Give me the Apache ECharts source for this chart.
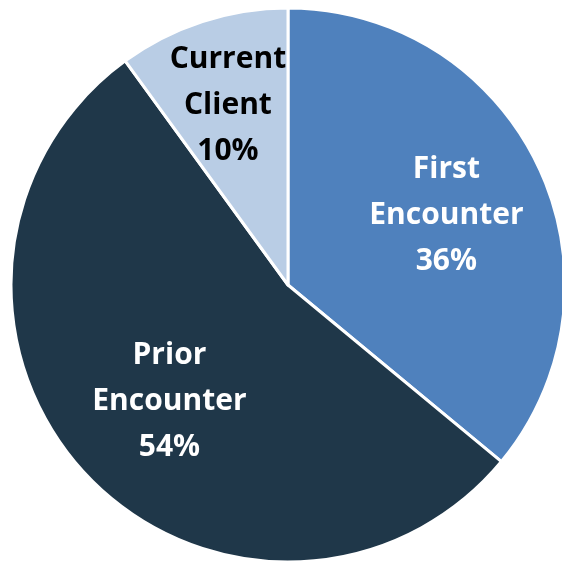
<!DOCTYPE html>
<html>
<head>
<meta charset="utf-8">
<script src="https://cdn.jsdelivr.net/npm/echarts@6/dist/echarts.min.js"></script>
<style>
  html, body { margin: 0; padding: 0; background: #fff; }
  #chart { width: 562px; height: 563px; }
</style>
</head>
<body>
<div id="chart"></div>
<script>
const categories = ['First\nEncounter', 'Prior\nEncounter', 'Current\nClient']
const shares = [36, 54, 10]
const COLORS = ['#4F81BD', '#1F3749', '#B9CDE5']
const TEXT_COLORS = ['#ffffff', '#ffffff', '#000000']
// small nudges so labels sit where the reference put them
const LABEL_OFFSETS = [[0, 5], [9, -3], [-6, -13]]

const chart = echarts.init(document.getElementById('chart'))

const slices = categories.map((name, i) => ({
  name,
  value: shares[i],
  itemStyle: { color: COLORS[i] }
}))

const labelData = categories.map((name, i) => ({
  name,
  value: shares[i],
  label: { color: TEXT_COLORS[i], offset: LABEL_OFFSETS[i] }
}))

chart.setOption({
  animation: false,
  series: [
    {
      type: 'pie',
      center: [288, 285],
      radius: [0, 277],
      startAngle: 90,
      clockwise: true,
      silent: true,
      label: { show: false },
      labelLine: { show: false },
      itemStyle: { borderColor: '#ffffff', borderWidth: 3 },
      data: slices
    },
    {
      // transparent ring used only to place the labels
      type: 'pie',
      center: [288, 285],
      radius: [0, 344],
      startAngle: 90,
      clockwise: true,
      silent: true,
      itemStyle: { color: 'transparent' },
      labelLine: { show: false },
      label: {
        show: true,
        position: 'inside',
        fontFamily: 'Open Sans',
        fontWeight: 'bold',
        fontSize: 30,
        lineHeight: 46,
        align: 'center',
        formatter: p => `${p.name}\n${p.value}%`
      },
      data: labelData
    }
  ]
})
</script>
</body>
</html>
